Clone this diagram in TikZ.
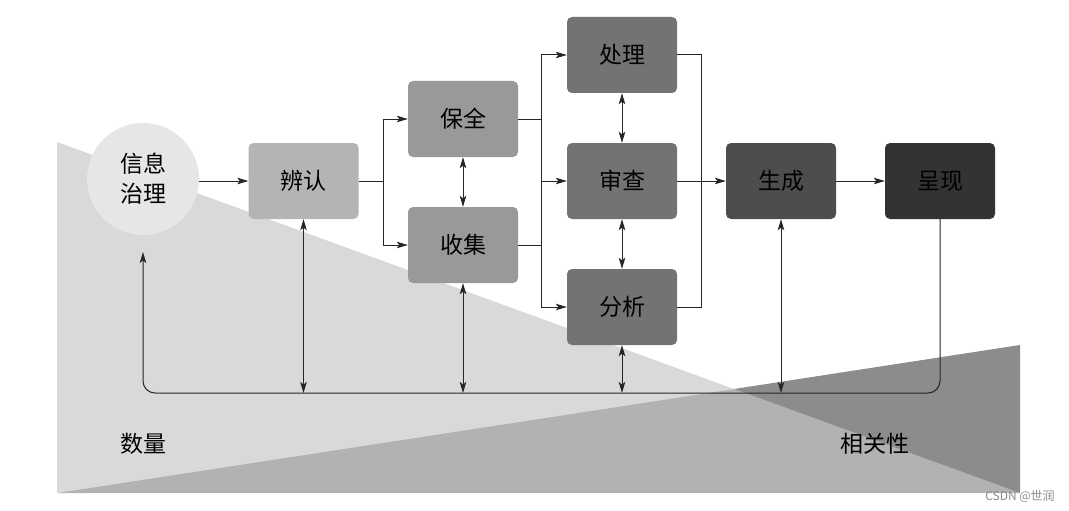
\documentclass[tikz,border=0pt]{standalone}
\usepackage{fontspec}
\setmainfont{Noto Sans CJK SC}
\usetikzlibrary{arrows.meta}
\definecolor{bgA}{HTML}{D9D9D9}
\definecolor{bgAB}{HTML}{B2B2B2}
\definecolor{bgB}{HTML}{8C8C8C}
\definecolor{cC}{HTML}{E6E6E6}
\definecolor{c1}{HTML}{B4B4B4}
\definecolor{c2}{HTML}{999999}
\definecolor{c3}{HTML}{737373}
\definecolor{c4}{HTML}{4D4D4D}
\definecolor{c5}{HTML}{333333}
\tikzset{
  box/.style={rectangle, rounded corners=5pt, minimum width=110pt, minimum height=76pt, inner sep=0pt, font=\fontsize{23}{26}\selectfont},
  conn/.style={line width=1pt, draw=black!85},
  arr/.style={conn, -{Stealth[length=11pt,width=6.5pt,inset=2.5pt]}},
  darr/.style={conn, {Stealth[length=11pt,width=6.5pt,inset=2.5pt]}-{Stealth[length=11pt,width=6.5pt,inset=2.5pt]}},
  lbl/.style={font=\fontsize{23}{26}\selectfont}
}
\begin{document}
\begin{tikzpicture}[x=1pt,y=-1pt]
\useasboundingbox (0,0) rectangle (1069,511);
\fill[white] (0,0) rectangle (1069,511);
% background triangles
\fill[bgA] (57,142) -- (734,389) -- (57,493) -- cycle;
\fill[bgAB] (57,493) -- (734,389) -- (1020,493) -- cycle;
\fill[bgB] (734,389) -- (1020,345) -- (1020,493) -- cycle;
% nodes
\node[circle, fill=cC, minimum size=112pt, inner sep=0pt, align=center, font=\fontsize{23}{30}\selectfont] (c) at (143,179) {信息\\治理};
\node[box, fill=c1] (bianren) at (303.5,181) {辨认};
\node[box, fill=c2] (baoquan) at (463,119) {保全};
\node[box, fill=c2] (shouji) at (463,245) {收集};
\node[box, fill=c3] (chuli) at (622,55) {处理};
\node[box, fill=c3] (shencha) at (622,181) {审查};
\node[box, fill=c3] (fenxi) at (622,307) {分析};
\node[box, fill=c4] (shengcheng) at (781,181) {生成};
\node[box, fill=c5] (chengxian) at (940,181) {呈现};
\node[lbl] (shuliang) at (143,444) {数量};
\node[lbl] (xiangguan) at (875,444) {相关性};
\node[font=\fontsize{12}{14}\selectfont, text=black!45] (wm) at (1020,496) {CSDN @世润};
% junction coordinates
\coordinate (j1) at (383,181);
\coordinate (j2) at (541,181);
\coordinate (j3) at (701,181);
\coordinate (bus) at (0,393);
\coordinate (cin) at (143,252);
% main flow
\draw[arr] (c.east |- bianren) -- (bianren.west);
\draw[conn] (bianren.east) -- (j1);
\draw[conn] (j1 |- baoquan) -- (j1 |- shouji);
\draw[arr] (j1 |- baoquan) -- (baoquan.west);
\draw[arr] (j1 |- shouji) -- (shouji.west);
\draw[conn] (baoquan.east) -- (j2 |- baoquan);
\draw[conn] (shouji.east) -- (j2 |- shouji);
\draw[conn] (j2 |- chuli) -- (j2 |- fenxi);
\draw[arr] (j2 |- chuli) -- (chuli.west);
\draw[arr] (j2) -- (shencha.west);
\draw[arr] (j2 |- fenxi) -- (fenxi.west);
\draw[conn] (chuli.east) -- (j3 |- chuli) -- (j3 |- fenxi) -- (fenxi.east);
\draw[arr] (shencha.east) -- (shengcheng.west);
\draw[arr] (shengcheng.east) -- (chengxian.west);
% vertical double arrows
\draw[darr] (baoquan.south) -- (shouji.north);
\draw[darr] (chuli.south) -- (shencha.north);
\draw[darr] (shencha.south) -- (fenxi.north);
\draw[darr] (bianren.south) -- (bianren.south |- bus);
\draw[darr] (shouji.south) -- (shouji.south |- bus);
\draw[darr] (fenxi.south) -- (fenxi.south |- bus);
\draw[darr] (shengcheng.south) -- (shengcheng.south |- bus);
% bus
\draw[arr, rounded corners=12pt] (chengxian.south) -- (chengxian.south |- bus) -- (cin |- bus) -- (cin);
\end{tikzpicture}
\end{document}
